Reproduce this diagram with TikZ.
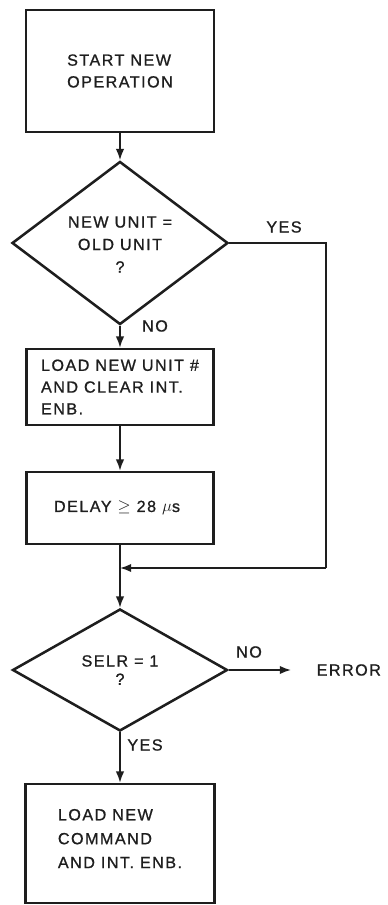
\documentclass[tikz,border=0pt]{standalone}
\usepackage{fontspec}
\setmainfont{Liberation Sans}[LetterSpace=9.0, FakeBold=1.0]
\usetikzlibrary{positioning, calc, shapes.geometric, arrows.meta}
\definecolor{inkBlack}{RGB}{ 30, 30, 30}
\tikzset{
  %% process box
  procbox/.style={
    rectangle, draw=inkBlack, line width=1.8pt,
    align=left, font=\fontsize{11.5}{15.5}\selectfont,
    inner sep=0pt, text=inkBlack
  },
  %% decision diamond
  decision/.style={
    diamond, draw=inkBlack, line width=1.8pt,
    align=center, font=\fontsize{11.5}{16}\selectfont,
    inner sep=0pt, text=inkBlack,
    minimum width=5.4cm, minimum height=3.05cm
  },
  %% standard arrow
  arr/.style={
    -{Latex[length=8pt,width=6pt]},
    line width=1.2pt, color=inkBlack
  },
  %% plain connector
  line/.style={line width=1.2pt, color=inkBlack},
  lbl/.style={
    font=\fontsize{11.5}{12}\selectfont, text=inkBlack, inner sep=1pt
  }
}

\begin{document}
\begin{tikzpicture}

\useasboundingbox (0,0) rectangle (9.7,22.625);

%% ═══════════════════════════════════════════════════════════
%%  MAIN COLUMN
%% ═══════════════════════════════════════════════════════════

\node[procbox, minimum width=4.7cm, minimum height=3.05cm] (start) at (3.0, 20.85) {
  START NEW\\
  OPERATION
};

\node[decision] (unitQ) at (3.0, 16.55) {
  \\[-6pt]
  NEW UNIT =\\
  OLD UNIT\\
  ?
};

\node[procbox, minimum width=4.675cm, minimum height=1.9cm] (loadUnit) at (3.0, 12.95) {
  LOAD NEW UNIT \#\\
  AND CLEAR INT.\\
  ENB.
};

\node[procbox, minimum width=4.675cm, minimum height=1.8cm] (delay) at (3.0, 9.925) {
  DELAY $\geq$ 28 $\mu$s
};

\node[decision, minimum width=5.375cm, font=\fontsize{11.5}{13}\selectfont] (selrQ) at (3.0, 5.875) {
  SELR = 1\\
  ?
};

\node[procbox, minimum width=4.725cm, minimum height=2.975cm, font=\fontsize{11.5}{17}\selectfont] (loadCmd) at (3.0, 1.5375) {
  LOAD NEW\\
  COMMAND\\
  AND INT. ENB.\\[-10pt]
};

\node[lbl, anchor=west] (error) at (7.875, 5.875) {ERROR};

%% ═══════════════════════════════════════════════════════════
%%  CONNECTORS
%% ═══════════════════════════════════════════════════════════

\coordinate (join) at (3.0, 8.425);
\coordinate (bypass) at (8.15, 8.425);

\draw[arr] (start.south) -- (unitQ.north);
\draw[arr] (unitQ.south) -- (loadUnit.north);
\draw[arr] (loadUnit.south) -- (delay.north);
\draw[arr] (delay.south) -- (selrQ.north);
\draw[arr] (selrQ.south) -- (loadCmd.north);

%% YES branch skips the unit load and delay
\draw[line] (unitQ.east) -| (bypass);
\draw[arr] (bypass) -- (join);

%% NO branch to error exit
\draw[arr] (selrQ.east) -- ($(error.west)+(-0.6,0)$);

%% ═══════════════════════════════════════════════════════════
%%  BRANCH LABELS
%% ═══════════════════════════════════════════════════════════

\node[lbl] at (7.1, 16.95) {YES};
\node[lbl] at (3.875, 14.475) {NO};
\node[lbl] at (6.225, 6.325) {NO};
\node[lbl] at (3.625, 4.0) {YES};

\end{tikzpicture}
\end{document}
